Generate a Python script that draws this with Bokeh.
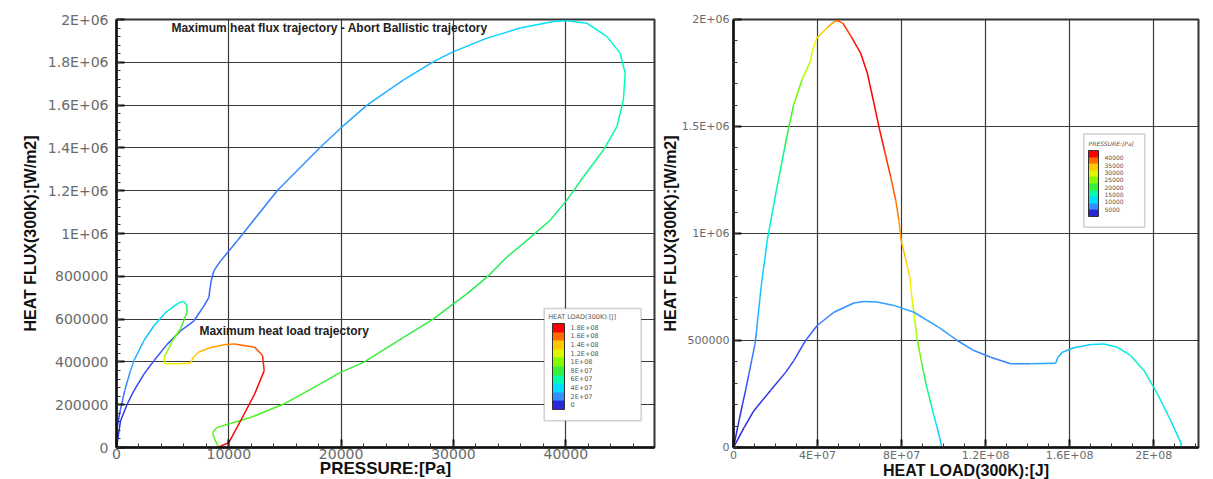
import numpy as np
from bokeh.plotting import figure
from bokeh.models import (ColumnDataSource, LinearColorMapper, ColorBar, FixedTicker, Label,
                          Range1d, BoxAnnotation, AllLabels)
from bokeh.layouts import row
from bokeh.embed import file_html
from bokeh.resources import INLINE

# ---------------- data ----------------
# Maximum heat flux trajectory (Abort Ballistic)
bt_pressure = [0, 356, 950, 1543, 2433, 3323, 4510, 5697, 6883, 7773, 8219, 8426, 8664, 9257,
               10000, 10740, 14324, 18150, 19930, 22300, 25560, 28230, 30010, 32980, 35950,
               38900, 40100, 41880, 43660, 44840, 45290, 45130, 44550, 43350, 41580, 40100,
               38610, 36540, 34760, 32980, 31200, 30010, 28230, 25560, 22000, 19930, 18150,
               14880, 11920, 10140, 8960, 8570, 8660, 8960, 9100]
bt_flux = [0, 124000, 202000, 265000, 342000, 405000, 482000, 545000, 591000, 661000, 700000,
           778000, 825000, 871000, 918000, 965000, 1201000, 1403000, 1491000, 1600000, 1718000,
           1803000, 1850000, 1913000, 1960000, 1991000, 1994000, 1983000, 1920000, 1843000,
           1749000, 1624000, 1499000, 1390000, 1265000, 1156000, 1062000, 968000, 890000,
           796000, 718000, 672000, 601000, 515000, 398000, 351000, 297000, 203000, 140000,
           112000, 94000, 70000, 47000, 16000, 0]
bt_load = [0, 2.6e6, 4.3e6, 5.7e6, 7.3e6, 8.6e6, 1.02e7, 1.10e7, 1.14e7, 1.22e7, 1.26e7, 1.35e7,
           1.41e7, 1.48e7, 1.54e7, 1.60e7, 2.04e7, 2.44e7, 2.62e7, 2.86e7, 3.26e7, 3.65e7,
           3.75e7, 3.96e7, 4.45e7, 4.80e7, 4.95e7, 5.20e7, 5.60e7, 6.05e7, 6.37e7, 6.65e7,
           6.92e7, 7.18e7, 7.48e7, 7.72e7, 7.87e7, 7.98e7, 8.17e7, 8.39e7, 8.47e7, 8.53e7,
           8.62e7, 8.73e7, 8.95e7, 9.05e7, 9.16e7, 9.40e7, 9.56e7, 9.64e7, 9.69e7, 9.75e7,
           9.81e7, 9.88e7, 9.90e7]

# Maximum heat load trajectory
hl_pressure = [0, 60, 330, 735, 1200, 1550, 2450, 3350, 4400, 5500, 5900, 6050, 6250, 6280,
               5700, 5000, 4550, 4250, 4300, 5400, 6590, 6850, 7300, 8300, 9700, 10500, 12300,
               13000, 13150, 12300, 11050, 10000, 9000]
hl_flux = [0, 94000, 172000, 266000, 351000, 406000, 500000, 570000, 632000, 675000, 682000,
           680000, 664000, 632000, 555000, 500000, 453000, 422000, 391000, 391000, 394000,
           422000, 445000, 466000, 481000, 484000, 468000, 430000, 359000, 250000, 125000,
           23000, 0]
hl_load = [0, 5.1e6, 9.7e6, 1.76e7, 2.48e7, 2.87e7, 3.43e7, 3.98e7, 4.78e7, 5.73e7, 6.21e7,
           6.84e7, 7.63e7, 8.59e7, 9.86e7, 1.065e8, 1.144e8, 1.224e8, 1.319e8, 1.414e8,
           1.533e8, 1.544e8, 1.565e8, 1.621e8, 1.70e8, 1.763e8, 1.827e8, 1.89e8, 1.954e8,
           2.018e8, 2.081e8, 2.129e8, 2.13e8]

left_xticks = [0, 10000, 20000, 30000, 40000]
left_xlabels = ["0", "10000", "20000", "30000", "40000"]
left_yticks = [0, 200000, 400000, 600000, 800000, 1000000, 1200000, 1400000, 1600000, 1800000, 2000000]
left_ylabels = ["0", "200000", "400000", "600000", "800000", "1E+06", "1.2E+06", "1.4E+06",
                "1.6E+06", "1.8E+06", "2E+06"]
right_xticks = [0, 4e7, 8e7, 1.2e8, 1.6e8, 2e8]
right_xlabels = ["0", "4E+07", "8E+07", "1.2E+08", "1.6E+08", "2E+08"]
right_yticks = [0, 500000, 1000000, 1500000, 2000000]
right_ylabels = ["0", "500000", "1E+06", "1.5E+06", "2E+06"]
load_legend_ticks = [0, 2e7, 4e7, 6e7, 8e7, 1e8, 1.2e8, 1.4e8, 1.6e8, 1.8e8]
load_legend_labels = ["0", "2E+07", "4E+07", "6E+07", "8E+07", "1E+08", "1.2E+08", "1.4E+08",
                      "1.6E+08", "1.8E+08"]
pressure_legend_ticks = [5000, 10000, 15000, 20000, 25000, 30000, 35000, 40000]
pressure_legend_labels = ["5000", "10000", "15000", "20000", "25000", "30000", "35000", "40000"]

# ---------------- colour map (style) ----------------
stops = [(0.00, (40, 40, 220)), (0.06, (60, 100, 255)), (0.13, (50, 160, 255)),
         (0.22, (0, 220, 255)), (0.32, (0, 255, 190)), (0.42, (40, 235, 80)),
         (0.52, (100, 250, 0)), (0.62, (190, 255, 0)), (0.72, (255, 240, 0)),
         (0.82, (255, 170, 0)), (0.91, (255, 90, 0)), (1.00, (255, 0, 0))]


def cmap(t):
    t = min(max(t, 0.0), 1.0)
    for (a, ca), (b, cb) in zip(stops[:-1], stops[1:]):
        if a <= t <= b:
            f = (t - a) / (b - a)
            c = [int(round(ca[k] + f * (cb[k] - ca[k]))) for k in range(3)]
            return "#%02x%02x%02x" % tuple(c)
    return "#ff0000"


palette256 = [cmap(i / 255) for i in range(256)]
legend_pal10 = [cmap(i / 9) for i in range(10)]

TICK_FONT = "DejaVu Sans"
LABEL_FONT = "Liberation Sans"


def seg_source(x, y, c):
    x = np.asarray(x, float); y = np.asarray(y, float); c = np.asarray(c, float)
    return ColumnDataSource(dict(x0=x[:-1], y0=y[:-1], x1=x[1:], y1=y[1:], c=(c[:-1] + c[1:]) / 2))


def style(p, xt, xl, xminor, yt, yl, yminor, tick_size, xlabel, ylabel, xlab_size, ylab_size):
    p.xaxis.ticker = FixedTicker(ticks=xt, minor_ticks=xminor)
    p.yaxis.ticker = FixedTicker(ticks=yt, minor_ticks=yminor)
    p.xaxis.major_label_overrides = {t: l for t, l in zip(xt, xl)}
    p.yaxis.major_label_overrides = {t: l for t, l in zip(yt, yl)}
    p.xgrid.ticker = FixedTicker(ticks=xt)
    p.ygrid.ticker = FixedTicker(ticks=yt)
    for g in (p.xgrid, p.ygrid):
        g.grid_line_color = "#3a3a3a"
        g.grid_line_width = 1.2
    for ax in (p.xaxis, p.yaxis):
        ax.axis_line_width = 2.5
        ax.axis_line_color = "#111111"
        ax.major_tick_in = 8
        ax.major_tick_out = 0
        ax.minor_tick_in = 4
        ax.minor_tick_out = 0
        ax.major_tick_line_color = "#111111"
        ax.major_tick_line_width = 2
        ax.minor_tick_line_color = "#333333"
        ax.major_label_text_font = TICK_FONT
        ax.major_label_text_font_size = tick_size
        ax.major_label_text_color = "#6a6a6a"
        ax.axis_label_text_font = LABEL_FONT
        ax.axis_label_text_font_style = "bold"
        ax.axis_label_text_color = "#111111"
    p.xaxis.axis_label = xlabel
    p.yaxis.axis_label = ylabel
    p.xaxis.axis_label_text_font_size = xlab_size
    p.yaxis.axis_label_text_font_size = ylab_size
    p.xaxis.major_label_standoff = 1
    p.xaxis.axis_label_standoff = -3
    p.yaxis.major_label_standoff = 8
    p.yaxis.axis_label_standoff = 6
    p.outline_line_color = "#333333"
    p.outline_line_width = 2
    p.background_fill_color = "white"
    p.border_fill_color = "white"


def legend(p, mapper, ticks, labels, title, bar_w, bar_h, loc, box, title_xy, fs, title_style):
    p.add_layout(BoxAnnotation(left=box[0], right=box[1], bottom=box[2], top=box[3],
                               fill_color="white", fill_alpha=1.0, line_color="#666666",
                               line_width=1.5, level="annotation"))
    cb = ColorBar(color_mapper=mapper, ticker=FixedTicker(ticks=ticks),
                  major_label_overrides={t: l for t, l in zip(ticks, labels)},
                  major_label_policy=AllLabels(), major_label_text_font_size=fs,
                  major_label_text_color="#555555", major_label_text_font=TICK_FONT,
                  width=bar_w, height=bar_h, location=loc, padding=0,
                  border_line_color=None, background_fill_alpha=0.0,
                  bar_line_color="#333333", major_tick_line_color=None, label_standoff=6)
    p.add_layout(cb)
    p.add_layout(Label(x=title_xy[0], y=title_xy[1], text=title, text_font=TICK_FONT,
                       text_font_size=fs, text_font_style=title_style, text_color="#555555",
                       text_baseline="middle"))


# ---------------- left figure ----------------
p1 = figure(width=658, height=488, x_range=Range1d(0, 47900), y_range=Range1d(0, 2000000),
            output_backend="svg", toolbar_location=None,
            min_border_left=116, min_border_right=4, min_border_top=19, min_border_bottom=41)
style(p1, left_xticks, left_xlabels, list(range(0, 48000, 2000)),
      left_yticks, left_ylabels, list(range(0, 2000001, 40000)), "14px",
      "PRESSURE:[Pa]", "HEAT FLUX(300K):[W/m2]", "17px", "16px")

load_mapper = LinearColorMapper(palette=palette256, low=0, high=2e8)
for xs, ys, cs in ((bt_pressure, bt_flux, bt_load), (hl_pressure, hl_flux, hl_load)):
    p1.segment("x0", "y0", "x1", "y1", source=seg_source(xs, ys, cs),
               line_color={"field": "c", "transform": load_mapper}, line_width=1.5)

p1.add_layout(Label(x=4890, y=1961000, text="Maximum heat flux trajectory  -  Abort Ballistic trajectory",
                    text_font=LABEL_FONT, text_font_style="bold", text_font_size="12px",
                    text_color="#222222", text_baseline="middle"))
p1.add_layout(Label(x=7385, y=546600, text="Maximum heat load trajectory",
                    text_font=LABEL_FONT, text_font_style="bold", text_font_size="12px",
                    text_color="#222222", text_baseline="middle"))

legend(p1, LinearColorMapper(palette=legend_pal10, low=-1e7, high=1.9e8),
       load_legend_ticks, load_legend_labels, "HEAT LOAD(300K):[J]",
       12, 86, (436, 38), (38080, 46710, 125000, 649700), (38435, 612000), "6.5px", "normal")

# ---------------- right figure ----------------
p2 = figure(width=547, height=488, x_range=Range1d(0, 2.213e8), y_range=Range1d(0, 2000000),
            output_backend="svg", toolbar_location=None,
            min_border_left=75, min_border_right=7, min_border_top=19, min_border_bottom=41)
style(p2, right_xticks, right_xlabels, [i * 1e7 for i in range(23)],
      right_yticks, right_ylabels, list(range(0, 2000001, 100000)), "11px",
      "HEAT LOAD(300K):[J]", "HEAT FLUX(300K):[W/m2]", "16px", "16px")
p2.yaxis.major_label_standoff = 4
p2.yaxis.axis_label_standoff = 0

pres_mapper = LinearColorMapper(palette=palette256, low=0, high=45000)
for xs, ys, cs in ((bt_load, bt_flux, bt_pressure), (hl_load, hl_flux, hl_pressure)):
    p2.segment("x0", "y0", "x1", "y1", source=seg_source(xs, ys, cs),
               line_color={"field": "c", "transform": pres_mapper}, line_width=1.5)

legend(p2, LinearColorMapper(palette=legend_pal10, low=0, high=45000),
       pressure_legend_ticks, pressure_legend_labels, "PRESSURE:[Pa]",
       10, 66, (355, 231), (1.667e8, 1.957e8, 1.029e6, 1.465e6), (1.69e8, 1.422e6), "6px", "italic")

layout = row(p1, p2)
open("out.html", "w").write(file_html(layout, INLINE))
